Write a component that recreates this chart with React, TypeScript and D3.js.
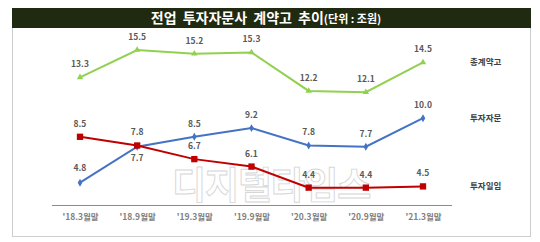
import React, { useEffect, useRef } from 'react';
import * as d3 from 'd3';

const periods = ["'18.3월말", "'18.9월말", "'19.3월말", "'19.9월말", "'20.3월말", "'20.9월말", "'21.3월말"];
const totalValues = [13.3, 15.5, 15.2, 15.3, 12.2, 12.1, 14.5];
const advisoryValues = [4.8, 7.7, 8.5, 9.2, 7.8, 7.7, 10.0];
const discretionaryValues = [8.5, 7.8, 6.7, 6.1, 4.4, 4.4, 4.5];
const seriesNames = ['총계약고', '투자자문', '투자일임'];

const App = () => {
  const ref = useRef<SVGSVGElement>(null);

  useEffect(() => {
    const width = 540;
    const height = 242;
    const svg = d3.select(ref.current);
    svg.selectAll('*').remove();
    svg.attr('width', width).attr('height', height);

    const font = "'Noto Sans CJK KR', 'Noto Sans', sans-serif";

    svg.append('rect').attr('width', width).attr('height', height).attr('fill', '#fff');

    // frame
    svg.append('rect')
      .attr('x', 12.5).attr('y', 27.5).attr('width', 518).attr('height', 209)
      .attr('fill', 'none').attr('stroke', '#9a9a9a').attr('stroke-dasharray', '1,1');

    // title bar
    svg.append('rect').attr('x', 12).attr('y', 8).attr('width', 519).attr('height', 20).attr('fill', '#1f2a10');
    const title = svg.append('text')
      .attr('x', 266).attr('y', 23).attr('text-anchor', 'middle')
      .attr('fill', '#fff').attr('font-family', font).attr('font-weight', 'bold');
    title.append('tspan').attr('font-size', 14).attr('word-spacing', 3).text('전업 투자자문사 계약고 추이');
    title.append('tspan').attr('font-size', 11).text('(단위 : 조원)');

    // watermark
    svg.append('text')
      .attr('x', 172).attr('y', 199)
      .attr('font-family', font).attr('font-size', 37).attr('font-weight', 'bold')
      .attr('letter-spacing', -1)
      .attr('fill', '#fff').attr('stroke', '#d6d6d6').attr('stroke-width', 0.9)
      .text('디지털타임스');

    const x = d3.scalePoint<string>().domain(periods).range([80, 423]);
    const y = d3.scaleLinear().domain([3, 15.5]).range([205, 50]);

    // axis
    const axis = svg.append('g').attr('transform', 'translate(0,205)')
      .call(d3.axisBottom(x).tickSize(0).tickPadding(9));
    axis.select('.domain').attr('d', 'M52,0.5H452').attr('stroke', '#8c8c8c').attr('stroke-width', 1.2);
    axis.selectAll('text')
      .attr('font-family', font).attr('font-size', 8.5).attr('font-weight', 'bold').attr('fill', '#7f7f7f');

    const series = [
      { name: seriesNames[0], values: totalValues, color: '#92d050', marker: 'triangle', labelDy: [-10, -10, -10, -10, -10, -10, -10] },
      { name: seriesNames[1], values: advisoryValues, color: '#4472c4', marker: 'diamond', labelDy: [-12, 14, -10, -10, -10, -10, -10] },
      { name: seriesNames[2], values: discretionaryValues, color: '#c00000', marker: 'square', labelDy: [-10, -10, -10, -10, -10, -10, -10] },
    ];

    const line = d3.line<number>().x((_, i) => x(periods[i]) as number).y(d => y(d));

    series.forEach(s => {
      svg.append('path')
        .attr('d', line(s.values))
        .attr('fill', 'none').attr('stroke', s.color).attr('stroke-width', 2);

      const sym = s.marker === 'triangle' ? d3.symbolTriangle : s.marker === 'diamond' ? d3.symbolDiamond : d3.symbolSquare;
      const size = s.marker === 'square' ? 40 : 18;
      svg.append('g').selectAll('path')
        .data(s.values)
        .join('path')
        .attr('transform', (d, i) => `translate(${x(periods[i])},${y(d)})`)
        .attr('d', d3.symbol().type(sym).size(size)())
        .attr('fill', s.color);

      svg.append('g').selectAll('text')
        .data(s.values)
        .join('text')
        .attr('x', (d, i) => x(periods[i]) as number)
        .attr('y', (d, i) => y(d) + s.labelDy[i])
        .attr('text-anchor', 'middle')
        .attr('font-family', font).attr('font-size', 8.5).attr('font-weight', 'bold').attr('fill', '#595959')
        .text(d => d.toFixed(1));

      svg.append('text')
        .attr('x', 470).attr('y', y(s.values[s.values.length - 1]) + 3)
        .attr('font-family', font).attr('font-size', 8.5).attr('font-weight', 'bold').attr('fill', '#404040')
        .text(s.name);
    });
  }, []);

  return <svg ref={ref} style={{ display: 'block', position: 'absolute', left: 0, top: 0 }}></svg>;
};

export default App;
